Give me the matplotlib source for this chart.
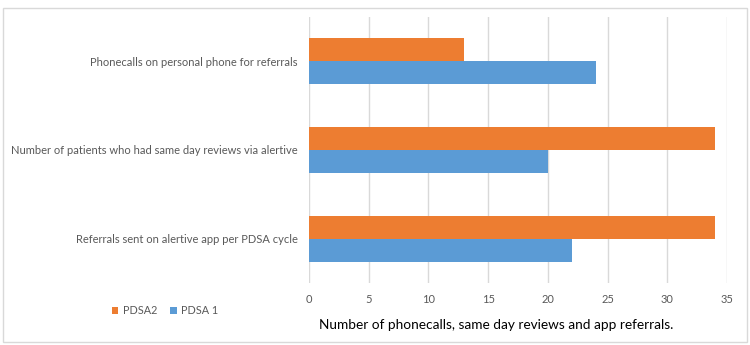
import numpy as np
import matplotlib.pyplot as plt
from matplotlib.patches import Rectangle

categories = ['Referrals sent on alertive app per PDSA cycle',
              'Number of patients who had same day reviews via alertive',
              'Phonecalls on personal phone for referrals']
pdsa1 = [22, 20, 24]
pdsa2 = [34, 34, 13]
xticks = [0, 5, 10, 15, 20, 25, 30, 35]

blue = '#5B9BD5'
orange = '#ED7D31'
grey_text = '#595959'

plt.rcParams['font.family'] = ['Lato', 'DejaVu Sans']

fig = plt.figure(figsize=(7.5, 3.45), dpi=100)
ax = fig.add_axes([309 / 750, 1 - 283 / 345, 418 / 750, 266 / 345])

y = np.arange(len(categories))
h = 0.26
b1 = ax.barh(y - h / 2, pdsa1, height=h, color=blue, label='PDSA 1', zorder=3)
b2 = ax.barh(y + h / 2, pdsa2, height=h, color=orange, label='PDSA2', zorder=3)

ax.set_xlim(0, 35)
ax.set_ylim(-0.5, 2.5)
ax.set_xticks(xticks)
ax.set_yticks(y)
ax.set_yticklabels(categories)
ax.tick_params(axis='both', length=0, labelsize=8, colors=grey_text)
ax.tick_params(axis='y', pad=8)
ax.tick_params(axis='x', pad=8)
ax.grid(axis='x', color='#D9D9D9', linewidth=1, zorder=0)
for s in ax.spines.values():
    s.set_visible(False)

fig.text(496 / 750, 1 - 325 / 345, 'Number of phonecalls, same day reviews and app referrals.',
         ha='center', va='center', fontsize=9.8, color='black')

fig.legend([b2, b1], ['PDSA2', 'PDSA 1'], ncol=2, frameon=False,
           loc='center', bbox_to_anchor=(165 / 750, 1 - 311 / 345),
           fontsize=7.8, labelcolor=grey_text, handlelength=0.6, handleheight=0.6,
           handletextpad=0.4, columnspacing=1.2)

# chart border
fig.patches.append(Rectangle((3 / 750, 3 / 345), 744 / 750, 334 / 345,
                             transform=fig.transFigure, fill=False,
                             edgecolor='#D9D9D9', linewidth=1))

fig.savefig('out.png', dpi=100)
